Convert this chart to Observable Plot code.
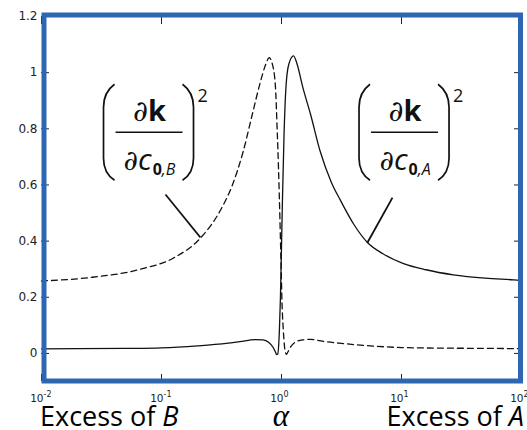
<!DOCTYPE html>
<html>
<head>
<meta charset="utf-8">
<script src="https://cdn.jsdelivr.net/npm/d3@7"></script>
<script src="https://cdn.jsdelivr.net/npm/@observablehq/plot@0.6"></script>
<style>
  html, body { margin: 0; padding: 0; background: #fff; }
</style>
</head>
<body>
<div id="chart"></div>
<script>
// ---- data ----
const alphaA = [0.01, 0.02, 0.05, 0.1, 0.2, 0.3, 0.45, 0.6, 0.7, 0.78, 0.85, 0.89, 0.91, 0.93, 0.96, 0.98, 1.0, 1.02, 1.05, 1.09, 1.15, 1.26, 1.35, 1.5, 1.75, 2.1, 2.6, 3.1, 4.0, 5.2, 7.0, 10.4, 16, 27, 50, 86, 100];
const valueA = [0.016, 0.017, 0.018, 0.02, 0.027, 0.033, 0.042, 0.049, 0.048, 0.04, 0.022, 0.005, -0.004, -0.002, 0.08, 0.2, 0.38, 0.56, 0.78, 0.95, 1.03, 1.06, 1.03, 0.95, 0.85, 0.72, 0.61, 0.545, 0.46, 0.395, 0.355, 0.32, 0.298, 0.28, 0.268, 0.262, 0.26];

const alphaB = [0.01, 0.025, 0.067, 0.126, 0.21, 0.31, 0.39, 0.48, 0.57, 0.67, 0.74, 0.79, 0.84, 0.89, 0.92, 0.944, 0.97, 0.99, 1.01, 1.04, 1.07, 1.1, 1.13, 1.2, 1.3, 1.5, 1.75, 2.3, 3.3, 5, 10, 20, 50, 100];
const valueB = [0.258, 0.27, 0.30, 0.34, 0.41, 0.51, 0.60, 0.72, 0.85, 0.97, 1.03, 1.053, 1.03, 0.95, 0.80, 0.66, 0.48, 0.33, 0.18, 0.07, 0.01, -0.003, 0.005, 0.025, 0.04, 0.048, 0.05, 0.042, 0.035, 0.028, 0.021, 0.019, 0.018, 0.017];

const xTicks = [0.01, 0.1, 1, 10, 100];
const xExponents = ["-2", "-1", "0", "1", "2"];
const yTicks = [0, 0.2, 0.4, 0.6, 0.8, 1, 1.2];

// annotation anchors (alpha, value)
const leaderLines = [
  {x1: 0.108, y1: 0.566, x2: 0.211, y2: 0.413},
  {x1: 8.41, y1: 0.555, x2: 5.21, y2: 0.395}
];
const formulaAnchors = [
  {x: 0.0787, y: 0.786, sub: "B"},
  {x: 10.6, y: 0.786, sub: "A"}
];
const bottomLabels = ["Excess of ", "B", "α", "Excess of ", "A"];

// ---- build tables ----
const seriesA = alphaA.map((a, i) => ({alpha: a, v: valueA[i]}));
const seriesB = alphaB.map((a, i) => ({alpha: a, v: valueB[i]}));
const xTickData = xTicks.map((t, i) => ({t, e: xExponents[i]}));

const blue = "#2E67B1";
const ink = "#222";

const plot = Plot.plot({
  width: 527,
  height: 430,
  marginLeft: 41,
  marginRight: 6,
  marginTop: 16,
  marginBottom: 49,
  style: {fontFamily: "DejaVu Sans", fontSize: "11px", color: ink, background: "#fff"},
  x: {type: "log", domain: [0.01, 100], axis: null},
  y: {domain: [-0.1, 1.2], axis: null},
  marks: [
    Plot.axisY(yTicks, {anchor: "left", tickSize: -8, tickPadding: 12, fontSize: 12, tickFormat: d => String(+d.toFixed(1)), stroke: ink}),
    Plot.axisY(yTicks, {anchor: "right", tickSize: -8, tickFormat: () => "", stroke: ink}),
    Plot.axisX(xTicks, {anchor: "bottom", tickSize: -7, tickFormat: () => "", stroke: ink}),
    Plot.axisX(xTicks, {anchor: "top", tickSize: -7, tickFormat: () => "", stroke: ink}),
    Plot.text(xTickData, {x: "t", frameAnchor: "bottom", lineAnchor: "top", dy: 13.5, dx: 2, textAnchor: "end", text: () => "10", fontSize: 10.5, fill: ink}),
    Plot.text(xTickData, {x: "t", frameAnchor: "bottom", lineAnchor: "top", dy: 10, dx: 2, textAnchor: "start", text: "e", fontSize: 8, fill: ink}),
    Plot.line(seriesB, {x: "alpha", y: "v", stroke: "#111", strokeWidth: 1.3, strokeDasharray: "6,4", curve: "monotone-x"}),
    Plot.line(seriesA, {x: "alpha", y: "v", stroke: "#111", strokeWidth: 1.3, curve: "monotone-x"}),
    Plot.link(leaderLines, {x1: "x1", y1: "y1", x2: "x2", y2: "y2", stroke: "#111", strokeWidth: 1.8}),
    Plot.frame({stroke: blue, strokeWidth: 5, insetLeft: 2.5, insetTop: -1.5, insetRight: 1, insetBottom: 0.5})
  ]
});

document.getElementById("chart").appendChild(plot);

const svg = d3.select(plot);
// enlarge y tick labels to match the reference's wider digits
svg.selectAll('g[aria-label="y-axis tick label"]').attr("font-size", 12)
  .selectAll("text").attr("font-size", 12);

// ---- formula annotations positioned through the plot's scales ----
const sx = plot.scale("x"), sy = plot.scale("y");

function drawFormula(cx, cy, sub) {
  const G = svg.append("g").attr("transform", `translate(${cx},${cy})`).attr("fill", "#111");
  G.append("line").attr("x1", -33).attr("x2", 34).attr("y1", 0).attr("y2", 0)
    .attr("stroke", "#111").attr("stroke-width", 1.3);
  const num = G.append("text").attr("x", 1).attr("y", -11).attr("text-anchor", "middle");
  num.append("tspan").attr("font-family", "DejaVu Serif").attr("font-style", "italic").attr("font-size", 29).text("∂");
  num.append("tspan").attr("font-family", "Open Sans").attr("font-weight", "bold").attr("font-size", 29).text("k");
  const den = G.append("text").attr("x", 1).attr("y", 38).attr("text-anchor", "middle");
  den.append("tspan").attr("font-family", "DejaVu Serif").attr("font-style", "italic").attr("font-size", 28).text("∂");
  den.append("tspan").attr("font-family", "Open Sans").attr("font-style", "italic").attr("font-size", 30).text("c");
  den.append("tspan").attr("font-family", "Open Sans").attr("font-weight", "bold").attr("font-size", 16).attr("dy", 5).attr("dx", 1).text("0");
  den.append("tspan").attr("font-family", "Open Sans").attr("font-style", "italic").attr("font-size", 16).text("," + sub);
  G.append("path").attr("d", "M -34,-48 Q -45,-40 -45,-25 L -45,26 Q -45,41 -34,48")
    .attr("fill", "none").attr("stroke", "#111").attr("stroke-width", 1.7);
  G.append("path").attr("d", "M 34,-48 Q 45,-40 45,-25 L 45,26 Q 45,41 34,48")
    .attr("fill", "none").attr("stroke", "#111").attr("stroke-width", 1.7);
  G.append("text").attr("x", 49).attr("y", -30).attr("text-anchor", "start").attr("font-family", "Open Sans").attr("font-size", 18).text("2");
}
formulaAnchors.forEach(f => drawFormula(sx.apply(f.x), sy.apply(f.y), f.sub));

// ---- bottom labels ----
const t1 = svg.append("text").attr("x", 40).attr("y", 426).attr("text-anchor", "start").attr("font-family", "Open Sans").attr("font-size", 27).attr("fill", "#000");
t1.append("tspan").text(bottomLabels[0]);
t1.append("tspan").attr("font-style", "italic").text(bottomLabels[1]);
svg.append("text").attr("x", sx.apply(1)).attr("y", 426).attr("text-anchor", "middle")
  .attr("font-family", "Liberation Serif").attr("font-style", "italic").attr("font-size", 31).attr("fill", "#000").text(bottomLabels[2]);
const t2 = svg.append("text").attr("x", 524).attr("y", 426).attr("text-anchor", "end").attr("font-family", "Open Sans").attr("font-size", 27).attr("fill", "#000");
t2.append("tspan").text(bottomLabels[3]);
t2.append("tspan").attr("font-style", "italic").text(bottomLabels[4]);
</script>
</body>
</html>
